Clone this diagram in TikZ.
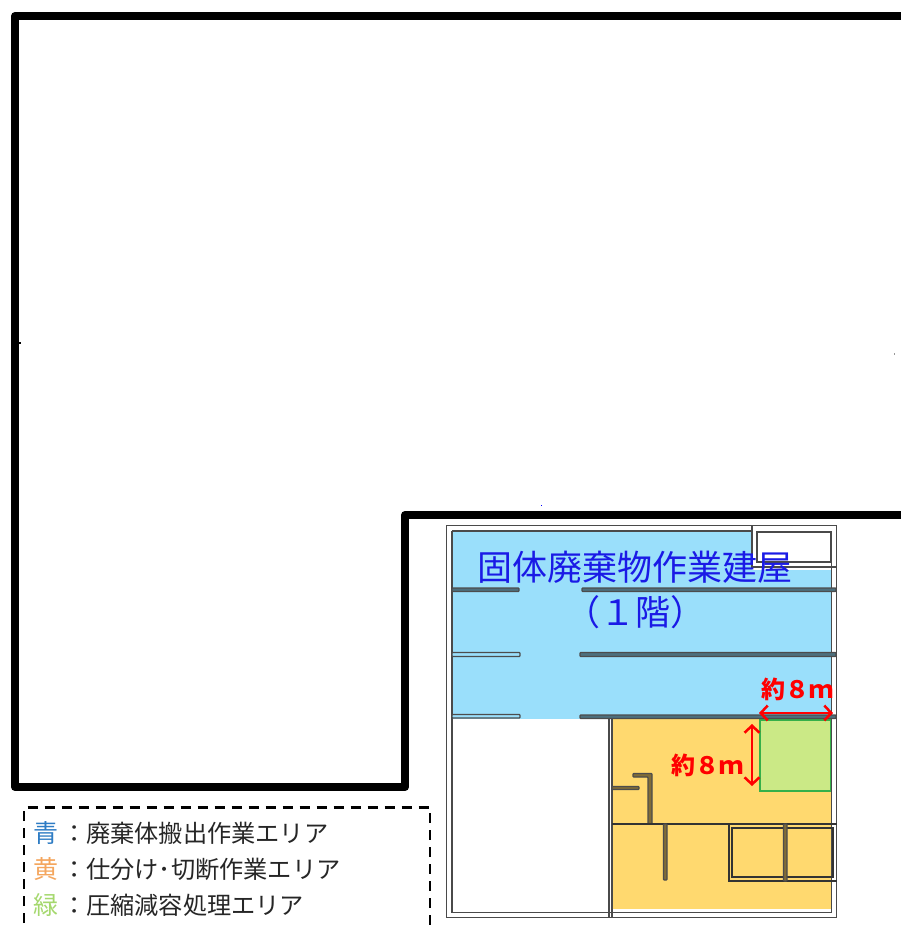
\documentclass[tikz,border=0pt]{standalone}
\usepackage{fontspec}
\usetikzlibrary{arrows.meta}
\newfontfamily\jpfont{Noto Sans CJK JP}
\definecolor{areablue}{HTML}{9ADFFB}
\definecolor{areayellow}{HTML}{FFD96F}
\definecolor{areagreen}{HTML}{CBE986}
\definecolor{wallgrey}{HTML}{4A4A4A}
\definecolor{titleblue}{HTML}{1A1AE6}
\definecolor{keyblue}{HTML}{2E7CC4}
\definecolor{keyorange}{HTML}{F4A65E}
\definecolor{keygreen}{HTML}{A5D86E}
\definecolor{zonegreen}{HTML}{35B04A}
\tikzset{
  x=1pt,y=-1pt,
  outline/.style={line width=8pt,line join=round,line cap=round,black},
  bldg/.style={draw=wallgrey,line width=1.6pt},
  wall/.style={draw=black!70,line width=1.2pt,rounded corners=0.8pt},
  thinwall/.style={draw=black!80,line width=1.3pt},
  dim/.style={draw=red,line width=2.5pt,{Straight Barb[length=7pt,width=15pt]}-{Straight Barb[length=7pt,width=15pt]}},
  legendbox/.style={draw=black,line width=2.2pt,dash pattern=on 10pt off 7pt},
  legendtext/.style={font=\jpfont\fontsize{24.2}{24}\selectfont,text=black!85,anchor=west,inner sep=0pt},
  legendkey/.style={font=\jpfont\fontsize{25}{25}\selectfont,anchor=west,inner sep=0pt},
  titletext/.style={font=\jpfont\fontsize{35}{35}\selectfont,text=titleblue,inner sep=0pt},
  dimtext/.style={font=\jpfont\bfseries\fontsize{24}{24}\selectfont,text=red,inner sep=0pt},
}
\begin{document}
\begin{tikzpicture}
\useasboundingbox (0,0) rectangle (901,927);
\begin{scope}
\clip (0,0) rectangle (901,927);
% site outline
\draw[outline] (905,16) -- (15,16) -- (15,787) -- (405,787) -- (405,515) -- (905,515);
\draw[black,line width=1.5pt] (15,343) -- (21,343);
\fill[blue] (540.5,505) rectangle (542,506);
\fill[black!40] (893.5,353) rectangle (894.5,355);
% coloured areas
\fill[areablue] (452,531) rectangle (831,719);
\fill[areayellow] (612,719) rectangle (831,909);
\fill[white] (752,525) rectangle (836,570);
\draw[draw=zonegreen,fill=areagreen,line width=1.2pt] (760,720) rectangle (831,791);
% building walls
\draw[bldg] (446.5,525.5) rectangle (836.5,917.5);
\draw[bldg] (452,531) -- (752,531);
\draw[bldg] (452,531) -- (452,912.5) -- (831.5,912.5) -- (831.5,562);
\draw[bldg] (752,526) -- (752,567) -- (836.5,567);
\draw[bldg,fill=white] (757,532) rectangle (831,562);
% horizontal corridors
\draw[wall,fill=black!50!areablue] (452,588) rectangle (519,591.5);
\draw[wall,fill=black!50!areablue] (582,588) rectangle (836,591.5);
\draw[wall,fill=areablue] (452,652.5) rectangle (520,656.5);
\draw[wall,fill=black!50!areablue] (580,652.5) rectangle (836,656.5);
\draw[wall,fill=areablue] (452,714.5) rectangle (520,718);
\draw[wall,fill=black!50!areablue] (580,715) rectangle (836,718.5);
% partition walls
\draw[bldg] (609,719) -- (609,917.5);
\draw[bldg] (612,719) -- (612,917.5);
\draw[wall,fill=black!50!areayellow] (612,786.5) -- (639,786.5) -- (639,789.5) -- (612,789.5) -- cycle;
\draw[wall,fill=black!50!areayellow] (633,773.5) -- (652,773.5) -- (652,824) -- (648,824) -- (648,777) -- (633,777) -- cycle;
\draw[thinwall] (612,824) -- (836.5,824);
\draw[wall,fill=black!50!areayellow] (663.5,824) rectangle (667,880);
\draw[thinwall] (729,824) -- (729,881) -- (836.5,881);
\draw[thinwall] (732,828) rectangle (833,877);
\draw[wall,fill=black!50!areayellow] (783.5,824) rectangle (787,881);
% labels
\node[titletext] (title1) at (634.5,567) {固体廃棄物作業建屋};
\node[titletext] (title2) at (635,612) {（１階）};
\node[dimtext] (dimh) at (797,689) {約８ｍ};
\node[dimtext] (dimv) at (707,765) {約８ｍ};
\coordinate (hl) at (759,713);
\coordinate (hr) at (833,713);
\coordinate (vt) at (752,724);
\coordinate (vb) at (752,786);
\draw[dim] (hl) -- (hr);
\draw[dim] (vt) -- (vb);
% legend
\draw[legendbox] (24,940) -- (24,807.5) -- (430,807.5) -- (430,940);
\node[legendkey,text=keyblue] (k1) at (33,833) {青};
\node[legendtext] (t1) at (62,833) {：廃棄体搬出作業エリア};
\node[legendkey,text=keyorange] (k2) at (33,869) {黄};
\node[legendtext] (t2) at (62,869) {：仕分け･切断作業エリア};
\node[legendkey,text=keygreen] (k3) at (33,905) {緑};
\node[legendtext] (t3) at (62,905) {：圧縮減容処理エリア};
\end{scope}
\end{tikzpicture}
\end{document}
